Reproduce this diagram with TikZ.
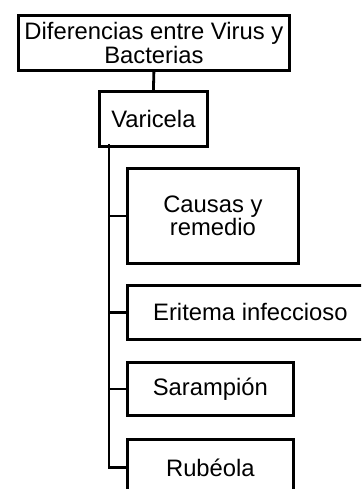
\documentclass[tikz,border=0pt]{standalone}
\usepackage{fontspec}
\setmainfont{Liberation Sans}
\begin{document}
\begin{tikzpicture}[x=1pt,y=-1pt,
  box/.style={draw, line width=2.8pt, rectangle, anchor=north west, inner sep=0pt, align=center, font=\fontsize{23.8}{23.3}\selectfont},
  link/.style={line width=2.8pt}]
\useasboundingbox (0,0) rectangle (361,489);
\clip (0,0) rectangle (361,489);
\node[box, minimum width=271pt, minimum height=55pt] (root) at (17,14) {Diferencias entre Virus y\\Bacterias};
\node[box, minimum width=108pt, minimum height=55pt] (var) at (98,90) {Varicela};
\node[box, minimum width=171pt, minimum height=95pt] (cau) at (126,167) {Causas y\\remedio};
\node[box, minimum width=246pt, minimum height=54pt] (eri) at (126,284) {Eritema infeccioso};
\node[box, minimum width=166pt, minimum height=53pt] (sar) at (126,361) {Sarampión};
\node[box, minimum width=166pt, minimum height=56pt] (rub) at (126,438) {Rubéola};
\draw[link] (root.south) -- (var.north);
\coordinate (t0) at (109,144);
\draw[link] (t0) |- (rub.west);
\draw[link] (t0 |- cau.west) -- (cau.west);
\draw[link] (t0 |- eri.west) -- (eri.west);
\draw[link] (t0 |- sar.west) -- (sar.west);
\end{tikzpicture}
\end{document}
